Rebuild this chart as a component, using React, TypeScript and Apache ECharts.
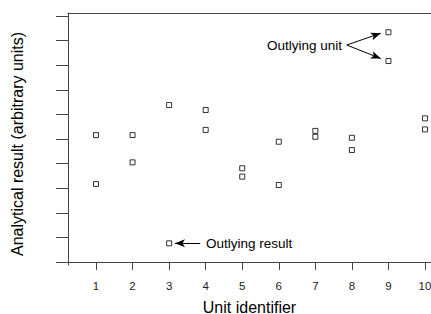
import React, { useEffect, useRef } from "react";
import * as echarts from "echarts";

const unitIds = [1, 2, 3, 4, 5, 6, 7, 8, 9, 10];
const resultA = [5.16, 5.16, 6.38, 6.18, 3.81, 4.89, 5.33, 5.05, 9.34, 5.84];
const resultB = [3.17, 4.05, 0.76, 5.37, 3.47, 3.13, 5.09, 4.55, 8.17, 5.39];
const xTicks = [1, 2, 3, 4, 5, 6, 7, 8, 9, 10];
const yTicks = [0, 1, 2, 3, 4, 5, 6, 7, 8, 9, 10];
// annotation arrows in data coordinates [from, to]
const unitArrows = [
  [[7.86, 8.82], [8.79, 9.3]],
  [[7.86, 8.82], [8.79, 8.27]],
];
const resultArrow = [[3.85, 0.76], [3.16, 0.76]];

const FONT = "Liberation Sans, Arial, sans-serif";
const FRAME = "#444";

export default function App() {
  const ref = useRef<HTMLDivElement>(null);
  useEffect(() => {
    document.body.style.margin = "0";
    const chart = echarts.init(ref.current!, null, { renderer: "svg" });
    const points: number[][] = [];
    unitIds.forEach((u, i) => {
      points.push([u, resultA[i]]);
      points.push([u, resultB[i]]);
    });
    const arrowData = [...unitArrows, resultArrow].map(([a, b]) => [
      { coord: a, symbol: "none" },
      { coord: b, symbol: "arrow", symbolSize: [6, 10] },
    ]);
    chart.setOption({
      animation: false,
      grid: {
        left: 68,
        right: 0,
        top: 13,
        bottom: 49,
        containLabel: false,
        outerBoundsMode: "none",
      },
      xAxis: [
        {
          type: "value",
          min: 0.234,
          max: 10.164,
          name: "Unit identifier",
          nameLocation: "middle",
          nameGap: 34,
          nameTextStyle: { fontFamily: FONT, fontSize: 16, color: "#000" },
          axisLine: { show: true, lineStyle: { color: FRAME, width: 1 } },
          axisTick: {
            show: true,
            length: 8,
            customValues: xTicks,
            lineStyle: { color: FRAME },
          },
          axisLabel: {
            customValues: xTicks,
            margin: 15,
            fontFamily: FONT,
            fontSize: 11.5,
            color: "#222",
          },
          splitLine: { show: false },
        },
        {
          type: "value",
          position: "top",
          min: 0.234,
          max: 10.164,
          axisLine: { show: true, lineStyle: { color: FRAME, width: 1 } },
          axisTick: { show: false },
          axisLabel: { show: false },
          splitLine: { show: false },
        },
      ],
      yAxis: {
        type: "value",
        min: -0.122,
        max: 10.122,
        name: "Analytical result (arbitrary units)",
        nameLocation: "middle",
        nameGap: 43,
        nameTextStyle: {
          fontFamily: FONT,
          fontSize: 16,
          color: "#000",
          padding: [0, 10, 0, 0],
        },
        axisLine: { show: true, lineStyle: { color: FRAME, width: 1 } },
        axisTick: {
          show: true,
          length: 12,
          customValues: yTicks,
          lineStyle: { color: FRAME },
        },
        axisLabel: { show: false, customValues: yTicks },
        splitLine: { show: false },
      },
      series: [
        {
          type: "scatter",
          data: points,
          symbol: "rect",
          symbolSize: 5,
          itemStyle: { color: "#fff", borderColor: "#000", borderWidth: 1 },
          markLine: {
            silent: true,
            symbol: ["none", "arrow"],
            label: { show: false },
            lineStyle: { color: "#000", width: 1, type: "solid" },
            data: arrowData,
          },
        },
      ],
      graphic: [
        {
          type: "text",
          x: 342,
          y: 45,
          style: {
            text: "Outlying unit",
            align: "right",
            verticalAlign: "middle",
            fontFamily: FONT,
            fontSize: 13.5,
            fill: "#000",
          },
        },
        {
          type: "text",
          x: 206,
          y: 243,
          style: {
            text: "Outlying result",
            align: "left",
            verticalAlign: "middle",
            fontFamily: FONT,
            fontSize: 13.5,
            fill: "#000",
          },
        },
      ],
    });
    return () => chart.dispose();
  }, []);
  return <div ref={ref} style={{ width: 431, height: 314 }} />;
}
